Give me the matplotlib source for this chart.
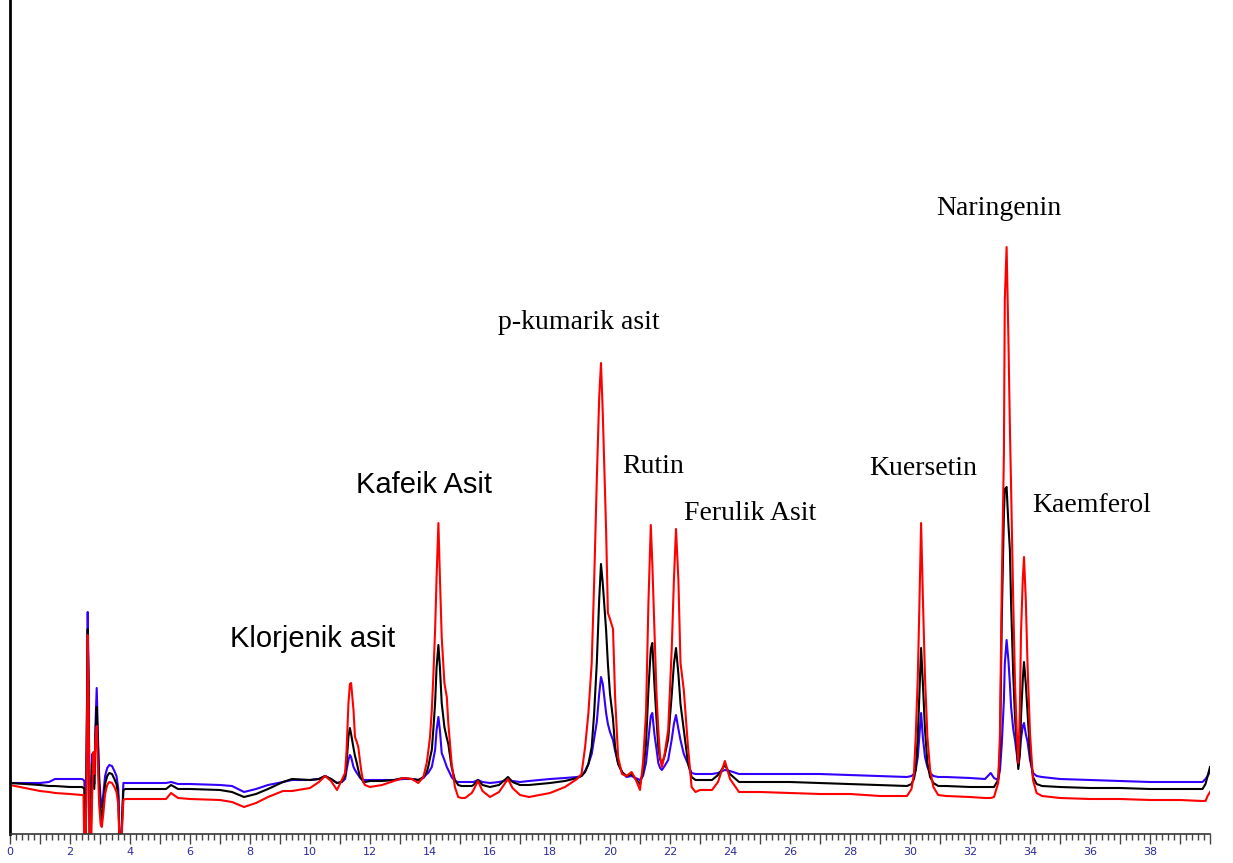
import matplotlib.pyplot as plt
from matplotlib.ticker import MultipleLocator, FuncFormatter

# retention time (min) and detector response
time = [
    0.0, 0.5, 1.0, 1.3, 1.5, 2.0, 2.4, 2.45, 2.48, 2.52, 2.56, 2.59, 2.62, 2.66, 2.70, 2.74,
    2.78, 2.81, 2.85, 2.89, 2.93, 2.97, 3.02, 3.06, 3.11, 3.17, 3.24, 3.31, 3.40, 3.48,
    3.55, 3.61, 3.66, 3.70, 3.74, 3.78, 3.85, 4.5, 5.2, 5.37, 5.6, 6.0, 7.0, 7.4, 7.8,
    8.2, 8.6, 9.1, 9.4, 10.0, 10.3, 10.5, 10.7, 10.9, 11.06, 11.17, 11.22, 11.28, 11.33,
    11.37, 11.45, 11.5, 11.56, 11.61, 11.67, 11.72, 11.78, 11.83, 12.0, 12.4, 12.8, 13.1,
    13.4, 13.61, 13.78, 13.89, 13.94, 14.0, 14.06, 14.11, 14.17, 14.22, 14.28, 14.33,
    14.39, 14.48, 14.56, 14.61, 14.72, 14.83, 14.94, 15.05, 15.17, 15.39, 15.45, 15.6,
    15.75, 16.0, 16.3, 16.6, 16.75, 17.0, 17.3, 18.0, 18.5, 18.9, 19.05, 19.17, 19.28,
    19.39, 19.47, 19.56, 19.64, 19.70, 19.76, 19.87, 19.93, 20.0, 20.1, 20.17, 20.27,
    20.4, 20.55, 20.72, 20.85, 21.0, 21.1, 21.2, 21.28, 21.36, 21.41, 21.48, 21.55,
    21.61, 21.67, 21.73, 21.82, 21.94, 22.06, 22.13, 22.2, 22.28, 22.35, 22.46, 22.6,
    22.72, 22.85, 23.0, 23.4, 23.6, 23.83, 24.0, 24.3, 25.0, 26.0, 27.0, 28.0, 29.0,
    29.9, 30.05, 30.13, 30.19, 30.26, 30.31, 30.37, 30.43, 30.5, 30.58, 30.67, 30.78,
    30.94, 31.2, 32.0, 32.5, 32.69, 32.8, 32.94, 33.0, 33.06, 33.13, 33.16, 33.22, 33.28,
    33.33, 33.37, 33.44, 33.5, 33.56, 33.61, 33.66, 33.7, 33.76, 33.8, 33.86, 33.92,
    34.0, 34.1, 34.22, 34.4, 35.0, 36.0, 37.0, 38.0, 39.0, 39.75, 39.85, 39.92, 40.0,
]
blue = [
    51, 51, 51, 52, 55, 55, 55, 54, 53, -20, 100, 222, 150, -20, 40, 80,
    60, 50, 110, 146, 100, 60, 35, 27, 40, 58, 66, 69, 68, 63,
    58, 45, -20, -20, 20, 51, 51, 51, 51, 52, 50, 50, 49, 48, 42,
    45, 49, 52, 54, 54, 55, 58, 55, 51, 52, 55, 64, 74, 79,
    77, 67, 64, 61, 59, 56, 55, 54, 54, 54, 54, 54, 55,
    55, 54, 56, 60, 61, 64, 67, 75, 84, 104, 117, 104,
    81, 74, 67, 64, 57, 53, 52, 52, 52, 52, 52, 54,
    52, 51, 52, 54, 53, 52, 53, 55, 56, 57, 58, 63, 70,
    80, 95, 112, 140, 157, 150, 121, 110, 102, 94, 83, 71,
    62, 57, 58, 56, 54, 58, 71, 95, 118, 121, 100, 85,
    71, 66, 64, 68, 74, 95, 110, 119, 105, 94, 80, 70,
    61, 60, 60, 60, 61, 64, 63, 60, 60, 60, 60, 59, 58,
    57, 58, 60, 64, 77, 97, 121, 96, 77, 67, 61, 58,
    57, 57, 56, 55, 61, 56, 54, 64, 90, 134, 170, 194, 174,
    150, 127, 105, 94, 80, 68, 80, 95, 108, 111, 100, 92,
    74, 61, 58, 57, 55, 54, 53, 52, 52, 52, 55, 58, 62,
]
black = [
    51, 50, 49, 48, 48, 47, 47, 46, 46, -20, 110, 205, 150, -20, 10, 70,
    55, 45, 100, 127, 90, 50, 22, 14, 30, 50, 58, 61, 60, 55,
    50, 38, -20, -20, 15, 44, 45, 45, 45, 49, 45, 45, 44, 42, 37,
    40, 45, 52, 55, 54, 55, 58, 55, 51, 52, 58, 71, 97, 106,
    100, 86, 78, 71, 64, 57, 55, 52, 52, 53, 53, 54, 56,
    55, 54, 57, 62, 67, 76, 84, 104, 131, 167, 189, 167,
    131, 107, 96, 90, 67, 54, 49, 48, 48, 48, 49, 54,
    49, 47, 49, 57, 52, 49, 49, 51, 53, 56, 58, 62, 70,
    87, 120, 171, 235, 270, 250, 204, 170, 140, 115, 87, 70,
    62, 58, 60, 55, 50, 62, 90, 144, 185, 191, 150, 115,
    87, 75, 70, 78, 95, 140, 170, 186, 160, 130, 104, 71,
    57, 54, 54, 54, 59, 69, 60, 52, 52, 52, 51, 50, 49,
    48, 50, 55, 64, 97, 137, 186, 150, 104, 71, 57, 51,
    48, 48, 47, 47, 47, 47, 54, 84, 217, 320, 345, 347, 310,
    284, 230, 160, 117, 85, 65, 80, 117, 155, 172, 150, 120,
    81, 57, 50, 48, 47, 46, 46, 45, 45, 45, 50, 58, 67,
]
red = [
    49, 46, 43, 42, 41, 40, 39, 39, -20, -20, 80, 199, 130, -20, -20, 40,
    82, 60, 95, 108, 70, 30, 10, 7, 20, 40, 49, 52, 51, 47,
    42, 30, -20, -20, 10, 34, 35, 35, 35, 41, 36, 35, 34, 32, 27,
    31, 37, 43, 43, 46, 52, 58, 53, 44, 54, 61, 84, 130, 150,
    151, 124, 97, 92, 87, 72, 61, 52, 49, 47, 49, 53, 56,
    55, 51, 57, 71, 82, 97, 124, 157, 204, 257, 311, 257,
    197, 151, 137, 111, 71, 47, 37, 36, 36, 41, 44, 53,
    43, 37, 42, 55, 46, 39, 37, 41, 47, 55, 60, 87, 121,
    171, 250, 354, 437, 471, 420, 304, 221, 215, 205, 137, 77,
    60, 58, 62, 55, 44, 71, 121, 230, 309, 271, 204, 140,
    104, 77, 67, 80, 104, 187, 254, 305, 254, 171, 144, 87,
    47, 42, 44, 44, 52, 73, 55, 42, 42, 41, 40, 40, 38,
    38, 45, 60, 97, 157, 224, 311, 235, 157, 97, 64, 47,
    39, 38, 37, 36, 36, 37, 51, 101, 251, 380, 534, 587, 496,
    406, 346, 234, 151, 101, 71, 120, 201, 255, 277, 234, 167,
    101, 54, 41, 38, 36, 35, 35, 34, 34, 33, 33, 38, 42,
]

# peak names with (time, response) of the label's left edge
peak_names = ['Klorjenik asit', 'Kafeik Asit', 'p-kumarik asit', 'Rutin',
              'Ferulik Asit', 'Kuersetin', 'Naringenin', 'Kaemferol']
label_x = [7.33, 11.53, 16.27, 20.4, 22.47, 28.63, 30.87, 34.07]
label_y = [195, 349, 512, 368, 321, 366, 626, 329]
label_font = ['Liberation Sans', 'Liberation Sans', 'Liberation Serif', 'Liberation Serif',
              'Liberation Serif', 'Liberation Serif', 'Liberation Serif', 'Liberation Serif']

fig = plt.figure(figsize=(12.33, 8.63), dpi=100)
ax = fig.add_axes([10 / 1233, 29 / 863, 1200 / 1233, 834 / 863])

ax.plot(time, blue, color='#3300ff', lw=1.5)
ax.plot(time, black, color='black', lw=1.5)
ax.plot(time, red, color='#ff0000', lw=1.5)

for name, x, y, fam in zip(peak_names, label_x, label_y, label_font):
    size = 21 if fam == 'Liberation Sans' else 20
    ax.text(x, y, name, fontsize=size, family=fam, ha='left', va='center')

ax.set_xlim(0, 40)
ax.set_ylim(0, 834)

ax.spines['top'].set_visible(False)
ax.spines['right'].set_visible(False)
ax.spines['left'].set_linewidth(2)
ax.spines['bottom'].set_linewidth(1.2)
ax.spines['bottom'].set_color('#333333')
ax.set_yticks([])

ax.xaxis.set_major_locator(MultipleLocator(1))
ax.xaxis.set_minor_locator(MultipleLocator(0.2))
ax.xaxis.set_major_formatter(FuncFormatter(lambda v, p: '%d' % v if int(round(v)) % 2 == 0 and v < 39.5 else ''))
ax.tick_params(axis='x', which='major', length=7, width=1, color='#444444', pad=2,
               labelsize=8, labelcolor='#2a2aa0')
ax.tick_params(axis='x', which='minor', length=4.5, width=1, color='#444444')

plt.savefig('out.png', dpi=100)
